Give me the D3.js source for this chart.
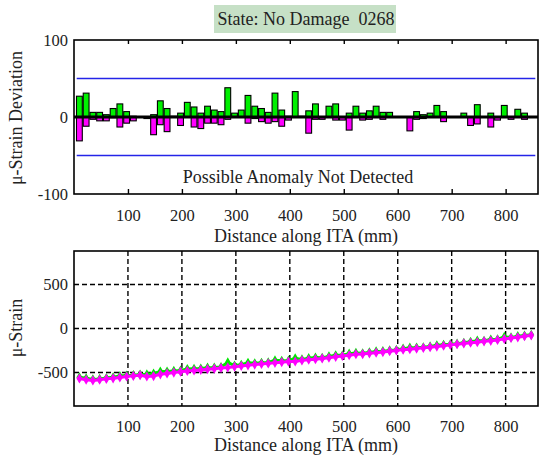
<!DOCTYPE html>
<html>
<head>
<meta charset="utf-8">
<script src="https://cdn.jsdelivr.net/npm/d3@7"></script>
<style>
  html, body { margin: 0; padding: 0; background: #fff; }
  svg { display: block; font-family: "Liberation Serif", "Times New Roman", serif; }
  text { white-space: pre; }
</style>
</head>
<body>
<svg id="chart" width="540" height="457"></svg>
<script>
// Sensor positions along the ITA (mm)
const positions = [10, 22.5, 35, 47.5, 60, 72.5, 85, 97.5, 110, 122.5, 135, 147.5, 160, 172.5, 185, 197.5,
  210, 222.5, 235, 247.5, 260, 272.5, 285, 297.5, 310, 322.5, 335, 347.5, 360, 372.5, 385, 397.5,
  410, 422.5, 435, 447.5, 460, 472.5, 485, 497.5, 510, 522.5, 535, 547.5, 560, 572.5, 585, 597.5,
  610, 622.5, 635, 647.5, 660, 672.5, 685, 697.5, 710, 722.5, 735, 747.5, 760, 772.5, 785, 797.5,
  810, 822.5, 835, 847.5];

// Positive deviation (green bars)
const devPositive = [27, 31, 6, 6, 3, 11, 17, 7, 1, 0, 0, 3, 21, 11, 1, 5,
  19, 13, 5, 14, 9, 7, 38, 5, 9, 28, 14, 11, 6, 31, 9, 1,
  33, 1, 8, 17, 0, 14, 17, 0, 5, 14, 5, 8, 14, 6, 6, 0,
  0, 0, 7, 3, 5, 15, 7, 0, 0, 5, 0, 16, 0, 5, 0, 15,
  0, 10, 5, 0];

// Negative deviation (magenta bars)
const devNegative = [-31, -12, -3, -5, -5, -1, -13, -8, -5, 0, -2, -23, -10, -19, 0, -11,
  0, -13, -15, -8, -8, -10, -3, 0, 0, -8, -2, -6, -8, -6, -12, -4,
  0, 0, -21, -3, -3, 0, -4, -4, -17, 0, -4, -3, 0, -3, 0, 0,
  0, -18, -3, -2, 0, 0, -6, 0, 0, 0, -11, -9, 0, -13, -4, 0,
  -3, 0, -3, 0];

// Measured strain, green channel
const strainGreen = [-554, -565, -578, -572, -562, -554, -540, -535, -530, -523, -522, -512, -488, -488, -482, -477,
  -460, -458, -455, -445, -443, -437, -385, -421, -412, -390, -395, -389, -385, -362, -367, -365,
  -338, -351, -337, -330, -332, -317, -304, -304, -286, -277, -281, -271, -260, -257, -249, -243,
  -229, -218, -217, -213, -204, -190, -185, -180, -172, -162, -151, -138, -139, -125, -122, -96,
  -101, -87, -80, -72];

// Measured strain, magenta channel
const strainMagenta = [-568, -582, -590, -582, -572, -566, -556, -545, -538, -530, -545, -540, -520, -510, -500, -490,
  -482, -476, -470, -462, -456, -448, -442, -434, -425, -418, -410, -402, -396, -390, -382, -376,
  -375, -362, -355, -348, -340, -332, -322, -312, -304, -292, -290, -282, -275, -268, -258, -250,
  -240, -235, -228, -220, -212, -205, -196, -186, -178, -170, -162, -155, -146, -140, -130, -118,
  -108, -100, -88, -78];

const xTicks = [100, 200, 300, 400, 500, 600, 700, 800];
const devTicks = [100, 0, -100];
const devLimits = [50, -50];
const strainTicks = [500, 0, -500];

const titleText = "State: No Damage  0268";
const statusText = "Possible Anomaly Not Detected";
const xLabel = "Distance along ITA (mm)";
const devLabel = "\u03bc-Strain Deviation";
const strainLabel = "\u03bc-Strain";

const svg = d3.select("#chart");
const left = 74, right = 538;
const textColor = "#222";
const serif = "Liberation Serif, Times New Roman, serif";
const plainNumber = (d) => String(d);   // keep an ASCII hyphen for negatives

const x = d3.scaleLinear().domain([0, 860]).range([left, right]);

function styleLabels(g) {
  g.select(".domain").remove();
  g.selectAll("text").attr("font-size", 16.5).attr("fill", textColor).attr("font-family", serif);
}

// ---------- Title ----------
svg.append("rect").attr("x", 214).attr("y", 5).attr("width", 182).attr("height", 28)
  .attr("fill", "#c6e0c6");
svg.append("text").attr("x", 306).attr("y", 25).attr("text-anchor", "middle")
  .attr("font-size", 18).attr("fill", textColor).text(titleText);

// ---------- Deviation chart ----------
const top1 = 40, bot1 = 194;
const y1 = d3.scaleLinear().domain([-100, 100]).range([bot1, top1]);
const g1 = svg.append("g");

const barW = (x(12.5) - x(0)) * 0.86;

g1.selectAll("rect.pos").data(positions).join("rect").attr("class", "pos")
  .attr("x", (d) => x(d) - barW / 2)
  .attr("width", barW)
  .attr("y", (d, i) => y1(devPositive[i]))
  .attr("height", (d, i) => y1(0) - y1(devPositive[i]))
  .attr("fill", "#00f000").attr("stroke", "#000").attr("stroke-width", 1.1);

g1.selectAll("rect.neg").data(positions).join("rect").attr("class", "neg")
  .attr("x", (d) => x(d) - barW / 2)
  .attr("width", barW)
  .attr("y", y1(0))
  .attr("height", (d, i) => y1(devNegative[i]) - y1(0))
  .attr("fill", "#ff00ff").attr("stroke", "#000").attr("stroke-width", 1.1);

// zero line
g1.append("line").attr("x1", left).attr("x2", right).attr("y1", y1(0)).attr("y2", y1(0))
  .attr("stroke", "#000").attr("stroke-width", 3);

// limit lines
g1.selectAll("line.limit").data(devLimits).join("line").attr("class", "limit")
  .attr("x1", x(5)).attr("x2", x(855)).attr("y1", (d) => y1(d)).attr("y2", (d) => y1(d))
  .attr("stroke", "#2424e8").attr("stroke-width", 1.4);

// frame
g1.append("rect").attr("x", left).attr("y", top1).attr("width", right - left).attr("height", bot1 - top1)
  .attr("fill", "none").attr("stroke", "#000").attr("stroke-width", 1.6);

// inward ticks on top and bottom
g1.append("g").attr("transform", `translate(0,${top1})`)
  .call(d3.axisBottom(x).tickValues(xTicks).tickSize(4).tickFormat(""))
  .call((g) => g.select(".domain").remove())
  .call((g) => g.selectAll("line").attr("stroke-width", 1.4));
g1.append("g").attr("transform", `translate(0,${bot1})`)
  .call(d3.axisTop(x).tickValues(xTicks).tickSize(5).tickFormat(""))
  .call((g) => g.select(".domain").remove())
  .call((g) => g.selectAll("line").attr("stroke-width", 1.4));

// tick labels
g1.append("g").attr("transform", `translate(0,${bot1})`)
  .call(d3.axisBottom(x).tickValues(xTicks).tickSize(0).tickPadding(15).tickFormat(plainNumber))
  .call(styleLabels);
g1.append("g").attr("transform", `translate(${left},0)`)
  .call(d3.axisLeft(y1).tickValues(devTicks).tickSize(0).tickPadding(6).tickFormat(plainNumber))
  .call(styleLabels);

g1.append("text").attr("x", 298).attr("y", 183).attr("text-anchor", "middle")
  .attr("font-size", 18).attr("fill", textColor).text(statusText);
g1.append("text").attr("x", 306).attr("y", 242).attr("text-anchor", "middle")
  .attr("font-size", 18).attr("fill", textColor).text(xLabel);
g1.append("text").attr("transform", `translate(22,${(top1 + bot1) / 2 + 1}) rotate(-90)`)
  .attr("text-anchor", "middle").attr("font-size", 18).attr("fill", textColor).text(devLabel);

// ---------- Strain chart ----------
const top2 = 251, bot2 = 406;
const y2 = d3.scaleLinear().domain([-880, 880]).range([bot2, top2]);
const g2 = svg.append("g");

// dashed grid
g2.selectAll("line.vgrid").data(xTicks).join("line").attr("class", "vgrid")
  .attr("x1", (d) => x(d)).attr("x2", (d) => x(d)).attr("y1", top2).attr("y2", bot2)
  .attr("stroke", "#000").attr("stroke-width", 1.4).attr("stroke-dasharray", "5,3");
g2.selectAll("line.hgrid").data(strainTicks).join("line").attr("class", "hgrid")
  .attr("x1", left).attr("x2", right).attr("y1", (d) => y2(d)).attr("y2", (d) => y2(d))
  .attr("stroke", "#000").attr("stroke-width", 1.4).attr("stroke-dasharray", "5,3");

const series = [
  { values: strainGreen, color: "#00e600" },
  { values: strainMagenta, color: "#ff00ff" }
];
const line = d3.line().x((d) => x(d[0])).y((d) => y2(d[1]));
const marker = d3.symbol().type(d3.symbolDiamond).size(30);

series.forEach((s) => {
  const pts = positions.map((p, i) => [p, s.values[i]]);
  g2.append("path").datum(pts).attr("d", line)
    .attr("fill", "none").attr("stroke", s.color).attr("stroke-width", 3);
  g2.append("g").selectAll("path").data(pts).join("path")
    .attr("transform", (d) => `translate(${x(d[0])},${y2(d[1])})`)
    .attr("d", marker).attr("fill", s.color);
});

g2.append("rect").attr("x", left).attr("y", top2).attr("width", right - left).attr("height", bot2 - top2)
  .attr("fill", "none").attr("stroke", "#000").attr("stroke-width", 1.6);

g2.append("g").attr("transform", `translate(0,${bot2})`)
  .call(d3.axisBottom(x).tickValues(xTicks).tickSize(0).tickPadding(14).tickFormat(plainNumber))
  .call(styleLabels);
g2.append("g").attr("transform", `translate(${left},0)`)
  .call(d3.axisLeft(y2).tickValues(strainTicks).tickSize(0).tickPadding(6).tickFormat(plainNumber))
  .call(styleLabels);

g2.append("text").attr("x", 306).attr("y", 451).attr("text-anchor", "middle")
  .attr("font-size", 18).attr("fill", textColor).text(xLabel);
g2.append("text").attr("transform", `translate(22,328) rotate(-90)`)
  .attr("text-anchor", "middle").attr("font-size", 18).attr("fill", textColor).text(strainLabel);
</script>
</body>
</html>
